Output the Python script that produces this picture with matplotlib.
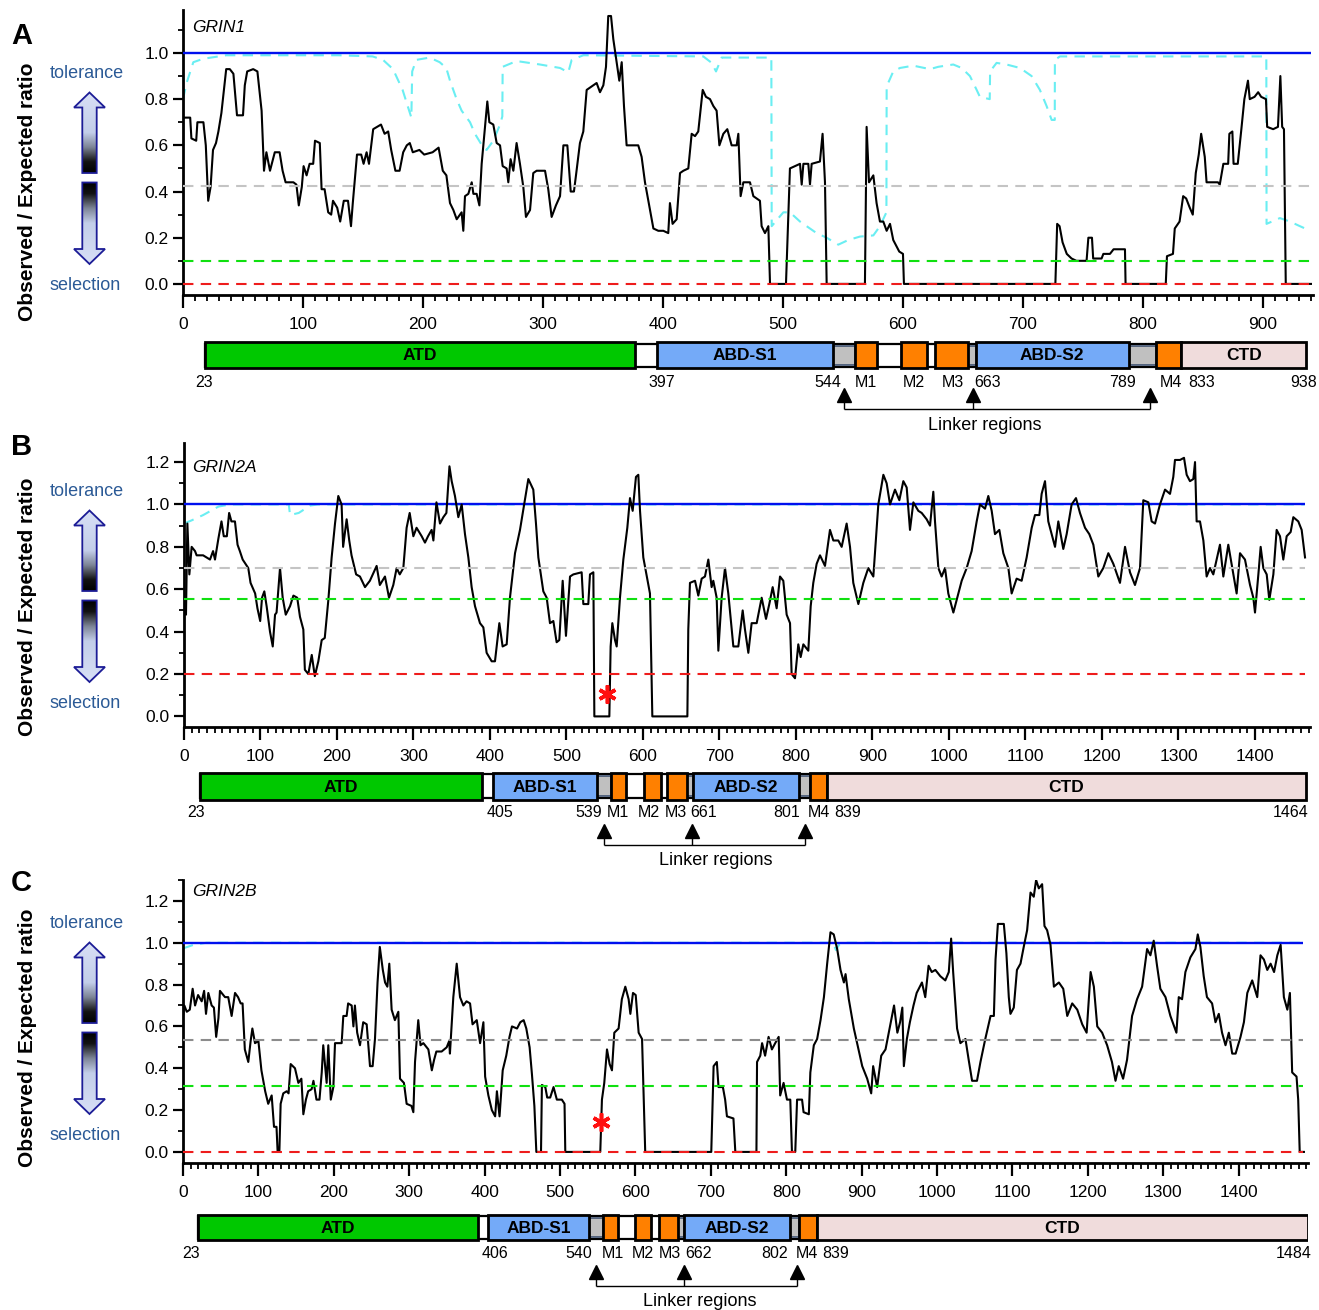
import numpy as np
import matplotlib
matplotlib.use('Agg')
import matplotlib.pyplot as plt
from matplotlib.patches import Rectangle, Polygon
from matplotlib.colors import LinearSegmentedColormap
from matplotlib.ticker import MultipleLocator, FormatStrFormatter

plt.rcParams['font.family'] = ['Liberation Sans', 'DejaVu Sans']

W, H = 1319, 1310

# ---------------- data (residue position, observed/expected ratio) ----------------
grin1_trace = [
    (0, .72), (6, .72), (7, .63), (11, .62), (12, .70), (17, .70), (19, .60), (21, .36), (23, .42), (25, .58),
    (27.5, .61), (29.5, .66), (32, .74), (36, .93), (39, .93), (42, .91), (45, .73), (50, .73), (51.5, .86), (53.5, .92),
    (58.5, .93), (62, .92), (65.5, .75), (67.5, .49), (69.5, .57), (72.5, .49), (76.5, .57), (80.5, .57), (83, .49), (85.5, .44),
    (89, .44), (92, .44), (94.5, .43), (96.5, .34), (99, .42), (100.5, .51), (103, .47), (105.5, .52), (108.5, .52), (110, .62),
    (114, .61), (115.5, .41), (118, .41), (121, .31), (123.5, .30), (125, .36), (128.5, .33), (131, .27), (134, .36), (137.5, .36),
    (140, .25), (141.5, .35), (145, .56), (148.5, .56), (150.5, .52), (153, .57), (155, .52), (158.5, .67), (165, .69), (168, .65),
    (171, .66), (173.5, .58), (177, .49), (180.5, .49), (183.5, .57), (186.5, .60), (189, .61), (191.5, .57), (197, .58), (201, .56),
    (208, .57), (213, .59), (216.5, .49), (219.5, .47), (222.5, .35), (225.3, .32), (228.1, .28), (232.2, .31), (233.6, .23), (235, .38),
    (237.8, .39), (240.6, .44), (242, .39), (244.7, .39), (247, .34), (248.9, .52), (251.7, .68), (253.6, .79), (255.3, .70), (258.6, .69),
    (261.4, .61), (264.2, .60), (266.4, .51), (269.7, .50), (271.1, .44), (273, .54), (275.3, .49), (278, .61), (280.8, .52), (283.6, .42),
    (285.8, .29), (289.2, .32), (291.9, .48), (294.7, .49), (301.7, .49), (304.4, .41), (307.2, .29), (310.8, .34), (314.2, .38), (317, .60),
    (320.3, .60), (323.1, .40), (325.8, .40), (327.5, .47), (330.8, .61), (333.6, .66), (336.4, .84), (339.2, .85), (342, .86), (344.7, .87),
    (347.5, .83), (350.3, .86), (352.5, .94), (354.4, 1.16), (356.7, 1.16), (358.6, 1.06), (361.4, .96), (363.6, .88), (365.6, .96), (367.5, .77),
    (369.7, .60), (375.3, .60), (379.4, .60), (382.2, .55), (385, .44), (387.8, .36), (392, .24), (396.1, .23), (400.3, .23), (404.4, .22),
    (405.8, .35), (408, .26), (411.4, .28), (414.2, .48), (417, .49), (421.1, .50), (423.9, .65), (426.7, .64), (429.4, .66), (433.1, .84),
    (435.8, .81), (439.2, .80), (442, .77), (444.7, .75), (447, .60), (450.3, .65), (453.6, .67), (457.2, .60), (461.4, .60), (462.8, .65),
    (464.7, .38), (467, .44), (472.5, .44), (475.3, .38), (480.8, .36), (482.2, .25), (485, .22), (487.8, .25), (489.2, 0), (502.5, 0),
    (505.8, .50), (514.2, .52), (515.6, .43), (517, .52), (521.1, .52), (522.5, .43), (523.9, .52), (530.8, .53), (533, .65), (535, .44),
    (536.4, 0), (568.3, 0), (569.7, .68), (571.7, .44), (575.3, .47), (578, .35), (580.8, .27), (583.6, .27), (586.4, .23), (589.2, .26),
    (591.9, .19), (596.9, .14), (600, .13), (600.8, 0), (727, 0), (728.5, .26), (730.5, .25), (733, .18), (736.5, .13), (740.5, .11),
    (744.5, .10), (753, .10), (754.5, .20), (757.5, .20), (758.5, .11), (765.5, .11), (767, .13), (772.5, .13), (775.5, .15), (785, .15),
    (785.5, 0), (819, 0), (820, .12), (825, .13), (826.5, .24), (830.5, .27), (833.5, .38), (836, .37), (839, .33), (841.5, .30),
    (844, .48), (846.5, .56), (848.5, .65), (851.5, .55), (853, .44), (862.5, .44), (864, .43), (867, .52), (871, .52), (872, .65),
    (874.5, .66), (875.5, .52), (879, .52), (882, .67), (884.5, .80), (887.5, .88), (889, .80), (893, .81), (896, .83), (898.5, .81),
    (902.5, .80), (903.5, .68), (908.5, .67), (912.5, .68), (914.5, .90), (916, .68), (917.5, .67), (919, 0), (940, 0),
]
grin1_upper = [
    (0, .80), (3, .87), (8.6, .96), (17, .975), (36, .99), (130, .99), (158, .985), (166.7, .97), (175, .93), (183, .84),
    (190.3, .72), (191, .92), (194.4, .97), (205.5, .98), (213.9, .96), (219.4, .935), (222.5, .88), (228, .80), (232.2, .75), (239.2, .70),
    (243.3, .65), (250.3, .59), (253, .58), (258.6, .62), (264.2, .69), (266.1, .725), (266.4, .94), (278, .965), (297.5, .95), (314.2, .935),
    (321.1, .916), (323.9, .97), (333.6, .99), (433.6, .985), (440.6, .957), (444.2, .92), (448.9, .98), (490.3, .98), (490.6, .25), (500.3, .31),
    (505.8, .31), (514.2, .27), (519.7, .25), (528, .22), (536.4, .20), (546.1, .17), (554.4, .19), (564.2, .205), (575.3, .21), (580.8, .25),
    (586.2, .31), (586.4, .855), (591.9, .92), (597.5, .935), (608.6, .945), (622.5, .93), (629.4, .94), (641.9, .95), (648.9, .935), (655.8, .90),
    (661.4, .84), (664.1, .81), (672.3, .80), (672.6, .92), (678, .957), (686.3, .95), (697.5, .935), (707.2, .90), (714.1, .84), (719.7, .77),
    (723.9, .71), (726.5, .71), (726.6, .97), (730.8, .985), (902.8, .985), (903, .26), (914.1, .285), (922.5, .27), (930.8, .25), (937.7, .234),
]

grin2a_trace = [
    (0, .49), (2.6, .48), (4.4, .91), (7, .67), (10, .80), (14.4, .78), (16.5, .76), (25, .76), (34, .74), (38, .78),
    (40.5, .74), (45, .84), (49, .92), (52, .85), (56, .85), (59, .96), (62, .92), (66.6, .92), (70, .81), (73, .78),
    (76.7, .74), (84, .70), (87, .63), (93, .58), (96, .51), (99.6, .45), (102, .56), (105, .59), (108, .52), (112.4, .40),
    (116, .33), (119, .48), (121, .49), (125.5, .70), (129, .56), (133, .48), (138.6, .52), (143, .57), (148, .56), (151.6, .47),
    (156, .41), (158, .22), (162.5, .20), (167, .29), (171, .19), (175.6, .26), (180, .36), (184, .37), (188.7, .55), (193, .75),
    (197.4, .91), (201.7, 1.04), (206, 1.00), (208, .80), (212.6, .93), (216, .83), (219, .76), (225, .67), (230, .66), (236.6, .61),
    (243, .64), (251.8, .71), (256, .62), (262.7, .66), (268, .56), (273.6, .62), (278, .70), (282, .67), (286.7, .70), (291, .89),
    (295, .96), (299.8, .85), (304, .89), (310.7, .85), (315, .82), (319, .85), (323.7, .88), (326, .83), (330, 1.01), (334.6, .91),
    (339, .94), (343, .96), (347, 1.18), (349.9, 1.11), (354.2, 1.04), (358.6, .94), (363, 1.00), (367.3, .86), (371.7, .75), (376, .61),
    (380.4, .52), (386.9, .44), (391.3, .42), (395.6, .30), (402.2, .26), (406.5, .26), (412.2, .44), (416.5, .33), (421.8, .34), (426.1, .56),
    (432.7, .77), (439.2, .88), (450.1, 1.12), (456.6, 1.07), (460.1, .91), (463.2, .75), (469.7, .59), (474.1, .56), (478.4, .44), (482.8, .45),
    (487.1, .35), (490.6, .36), (495, .64), (499.3, .38), (504.6, .66), (508.9, .67), (519.8, .68), (522, .53), (528.5, .53), (530.7, .67),
    (535.1, .68), (536.4, 0), (556, 0), (557.7, .33), (559.9, .44), (563.4, .36), (565.6, .33), (569.9, .56), (574.3, .74), (579.5, .89),
    (583, 1.03), (586.5, .97), (590.8, 1.13), (593.9, 1.14), (596.1, .97), (600.4, .75), (609.1, .58), (612.2, 0), (658, 0), (659.2, .41),
    (661.4, .63), (668, .64), (672.3, .57), (676.7, .65), (681, .66), (685.4, .74), (689.7, .61), (691.9, .64), (696.3, .56), (698.5, .31),
    (702.8, .56), (707.2, .70), (711.5, .58), (718.1, .33), (724.6, .33), (730.3, .50), (733.3, .41), (737.7, .30), (742, .44), (748.6, .44),
    (755.1, .56), (760.8, .46), (765.1, .53), (769.5, .61), (774.7, .51), (779.1, .66), (783.4, .64), (787.8, .48), (792.2, .44), (794.3, .20),
    (798.7, .18), (803, .34), (806.1, .28), (809.6, .34), (816.1, .31), (819.2, .52), (822.6, .63), (827, .72), (831.4, .76), (837.9, .71),
    (844.4, .88), (848.8, .83), (855.3, .83), (859.7, .80), (866.2, .91), (870.6, .80), (874.9, .63), (881.5, .53), (888, .63), (894.5, .70),
    (901.1, .66), (907.6, 1.00), (914.2, 1.14), (918.5, 1.10), (922.9, 1.00), (929.4, 1.07), (935.1, 1.02), (940.3, 1.11), (944.7, 1.08), (949, .88),
    (953.4, 1.01), (959.9, .97), (964.3, .96), (970.8, .93), (975.2, .90), (979.5, 1.06), (981.7, .92), (986.1, .70), (990.4, .66), (994.8, .70),
    (999.1, .58), (1005.7, .49), (1010, .55), (1016.6, .64), (1023.1, .70), (1029.6, .78), (1036.2, .92), (1040.5, 1.00), (1047.1, .98), (1051.4, 1.04),
    (1055.8, .97), (1060.1, .86), (1065.8, .88), (1071, .77), (1077.6, .70), (1081.9, .58), (1088.4, .65), (1095, .64), (1101.5, .75), (1108.1, .89),
    (1112.4, .95), (1118.1, .95), (1121.1, 1.05), (1125.5, 1.11), (1129.8, .92), (1134.2, .86), (1138.6, .80), (1142.9, .92), (1149.4, .79), (1153.8, .86),
    (1160.3, 1.00), (1166, 1.03), (1171.2, .96), (1177.8, .89), (1183.4, .86), (1188.7, .81), (1195.2, .66), (1201.7, .70), (1208.3, .77), (1214.8, .72),
    (1223.5, .63), (1230.1, .80), (1236.6, .68), (1243.1, .62), (1249.7, .70), (1254, 1.02), (1260.6, 1.01), (1264.9, .92), (1269.3, .91), (1275.8, 1.00),
    (1282.4, 1.07), (1288.9, 1.05), (1293.2, 1.13), (1295.4, 1.21), (1302, 1.21), (1307.2, 1.22), (1310.7, 1.14), (1315, 1.11), (1319.4, 1.12), (1321.6, 1.20),
    (1323.7, .92), (1328.1, .92), (1332.5, .83), (1336.8, .66), (1341.2, .70), (1345.5, .67), (1354.2, .81), (1358.6, .66), (1365.1, .81), (1371.7, .67),
    (1376, .58), (1380.4, .77), (1386.9, .74), (1393.5, .62), (1397.8, .56), (1400, .49), (1404.4, .67), (1407.4, .80), (1410.9, .70), (1415.3, .67),
    (1418.7, .55), (1424, .67), (1428.3, .88), (1432.7, .85), (1437, .74), (1441.4, .85), (1446.6, .87), (1450.1, .94), (1456.6, .92), (1461, .88),
    (1465.4, .75),
]
grin2a_upper = [(0, .91), (10, .925), (25, .95), (35, .97), (45, .99), (60, 1.0), (137, 1.0), (138.6, .95),
                (150, .96), (165, .995), (175, 1.0), (1465, 1.0)]

grin2b_trace = [
    (0, .65), (1.8, .70), (5, .67), (9, .68), (12.8, .78), (16, .70), (20, .75), (24.8, .72), (28, .77), (30.5, .66),
    (33.6, .76), (38, .70), (41, .69), (44, .55), (47, .64), (49, .77), (55.7, .74), (60, .74), (64.5, .65), (69, .76),
    (73, .74), (76.5, .71), (79, .71), (82, .49), (86.6, .43), (89.7, .53), (92, .59), (95.5, .52), (100, .53), (104, .39),
    (109, .29), (113, .23), (117.6, .27), (120.7, .12), (124, .12), (125.5, 0), (127.8, 0), (129.5, .23), (133, .28), (137.5, .29),
    (140, .28), (142.8, .42), (148.5, .40), (153, .33), (157, .35), (159.6, .18), (163, .25), (166, .29), (170.6, .30), (173, .34),
    (177, .25), (181, .25), (184, .38), (186, .51), (190.5, .33), (192.7, .51), (196, .25), (199.4, .31), (201.6, .52), (210.4, .52),
    (212.6, .65), (217, .65), (219, .71), (223.7, .70), (226, .60), (228, .70), (231, .57), (234.7, .51), (239, .62), (243.6, .61),
    (248, .41), (251.5, .41), (254.6, .54), (258, .81), (261, .98), (265, .87), (268, .81), (271, .79), (273.6, .90), (276.7, .68),
    (281, .63), (285.6, .67), (287.8, .35), (293, .33), (296.6, .23), (303, .22), (305.5, .19), (307.7, .43), (312, .63), (315, .51),
    (318.8, .52), (325.4, .49), (330, .39), (333, .44), (336, .48), (343, .48), (349.7, .50), (353, .53), (354, .47), (358.5, .74),
    (363, .90), (367.4, .74), (371.8, .70), (376, .72), (380.7, .71), (384, .61), (389.6, .63), (394, .52), (398.4, .62), (400.7, .36),
    (405, .27), (409.6, .20), (414, .17), (416.3, .29), (419.8, .17), (424, .39), (428.7, .46), (433, .55), (436.3, .60), (443, .59),
    (447.3, .62), (451.8, .63), (455.3, .59), (459.7, .50), (462.8, .37), (466, .22), (468.6, 0), (474.8, 0), (476, .32), (480.5, .31),
    (483, .26), (487, .26), (491.4, .31), (495.8, .25), (502.4, .25), (506, .23), (507, 0), (553.4, 0), (555.6, .25), (558.7, .33),
    (562.3, .49), (565.8, .42), (568.9, .39), (572, .57), (577.7, .59), (582, .73), (586.6, .79), (591, .73), (593.3, .66), (596.8, .76),
    (600.4, .75), (604.3, .57), (608.8, .54), (613, 0), (700.6, 0), (703.7, .41), (708, .43), (710.2, .31), (716, .31), (719, .25),
    (721.4, .17), (730, .16), (732.5, 0), (760.5, 0), (761.3, .43), (765.6, .46), (768, .52), (772, .46), (776.6, .55), (781, .49),
    (785.4, .52), (790, .55), (792, .27), (796.5, .33), (801, .25), (805.4, .25), (807.6, 0), (812, 0), (814.4, .25), (821, .25),
    (823, .19), (830, .18), (832, .38), (836.6, .51), (841, .54), (845.5, .63), (850, .74), (854.3, .90), (858.7, 1.05), (863, 1.04),
    (867.6, .97), (872, .87), (876.5, .81), (878.7, .85), (883, .73), (889.7, .59), (894, .52), (900.8, .41), (907.4, .35), (912.7, .28),
    (915.3, .41), (920.6, .31), (926, .46), (931.7, .49), (936, .57), (943, .70), (947.4, .57), (951, .62), (954, .69), (956, .41),
    (960, .54), (964, .62), (968.8, .70), (973, .76), (980, .81), (984.4, .74), (988.8, .89), (993, .86), (997.8, .87), (1004.4, .84),
    (1011, .82), (1015.6, .86), (1018.7, 1.02), (1021.4, .86), (1026.6, .59), (1031, .52), (1037.7, .54), (1042, .44), (1046.5, .34), (1053, .34),
    (1057.6, .43), (1064, .54), (1071, .65), (1075.4, .65), (1077.6, .92), (1080.7, 1.09), (1088.6, 1.09), (1092, .95), (1095.2, .74), (1097.4, .66),
    (1101.8, .69), (1106, .87), (1110.7, .90), (1115, .98), (1119.5, 1.06), (1124, 1.24), (1128.3, 1.22), (1131.4, 1.30), (1135, 1.26), (1139.4, 1.28),
    (1142.5, 1.08), (1146, 1.06), (1150.5, .99), (1155, .79), (1161.6, .81), (1167.4, .78), (1172.7, .65), (1179.3, .71), (1186, .68), (1192.6, .61),
    (1198.4, .57), (1203.7, .86), (1208, .79), (1212.5, .60), (1219, .57), (1225.6, .51), (1232, .43), (1236.7, .34), (1241, .41), (1246.8, .35),
    (1252, .44), (1258.7, .65), (1265.3, .73), (1272, .79), (1278.6, .97), (1283, .94), (1287.4, 1.01), (1291.8, .89), (1296.2, .78), (1303, .74),
    (1309.5, .65), (1317.5, .57), (1320.6, .74), (1325, .73), (1329.4, .86), (1336, .93), (1342.7, .97), (1345.8, 1.04), (1349.3, .98), (1353.7, .84),
    (1358, .74), (1364.8, .71), (1369.3, .62), (1373.7, .66), (1378, .57), (1382.6, .51), (1387, .57), (1391.5, .47), (1396, .47), (1402.5, .55),
    (1407, .62), (1411.5, .76), (1418, .82), (1424.7, .74), (1429, .94), (1433.5, .92), (1438, .87), (1442.4, .90), (1447, .86), (1451.3, .94),
    (1455.7, .99), (1460, .74), (1464.6, .68), (1468, .76), (1471, .38), (1476.8, .36), (1479, .25), (1481, 0), (1486.6, 0),
]
grin2b_upper = [(0, .973), (14, .99), (31, 1.0), (862, 1.0), (866, .965), (870, .99), (875, 1.0), (1486, 1.0)]

# reference levels: [grey mean, green, red]
grin1_levels = [0.425, 0.10, 0.0]
grin2a_levels = [0.70, 0.555, 0.20]
grin2b_levels = [0.535, 0.315, 0.0]
seq_ends = [940, 1465, 1486]
stars = [None, (553.4, 0.107), (553.9, 0.144)]

# protein domains (name, start, end); 'L' = linker, M1-M4 = membrane segments
grin1_domains = [('ATD', 18, 377), ('ABD-S1', 395, 542), ('L', 542, 560), ('M1', 560, 578), ('M2', 598, 620),
                 ('M3', 627, 654.5), ('L', 654.5, 660.6), ('ABD-S2', 660.6, 788), ('L', 788, 810.6), ('M4', 810.6, 832),
                 ('CTD', 832, 936)]
grin2a_domains = [('ATD', 21, 390), ('ABD-S1', 403.5, 540.3), ('L', 540.3, 557.7), ('M1', 557.7, 577.8), ('M2', 601.7, 623.1),
                  ('M3', 630.9, 657.1), ('L', 657.1, 665.8), ('ABD-S2', 665.8, 804.3), ('L', 804.3, 818.3), ('M4', 818.3, 840.1),
                  ('CTD', 840.1, 1466.7)]
grin2b_domains = [('ATD', 20, 391.7), ('ABD-S1', 404, 538.9), ('L', 538.9, 556.6), ('M1', 556.6, 577.4), ('M2', 599.5, 620.7),
                  ('M3', 631.3, 657), ('L', 657, 664.9), ('ABD-S2', 664.9, 805), ('L', 805, 817.4), ('M4', 817.4, 840.4),
                  ('CTD', 840.4, 1492.4)]

grin1_marks = [('23', 17.2), ('397', 399), ('544', 537), ('M1', 569.4), ('M2', 609), ('M3', 642), ('663', 670.6),
               ('789', 783.3), ('M4', 823), ('833', 849), ('938', 934)]
grin2a_marks = [('23', 15.7), ('405', 413), ('539', 528.5), ('M1', 567.7), ('M2', 607.8), ('M3', 642.7), ('661', 679.3),
                ('801', 787.8), ('M4', 830.1), ('839', 867.5), ('1464', 1446.6)]
grin2b_marks = [('23', 11), ('406', 414.2), ('540', 524.3), ('M1', 570.7), ('M2', 609.2), ('M3', 646.3), ('662', 683.9),
                ('802', 784.7), ('M4', 828), ('839', 865.2), ('1484', 1473)]

grin1_linkers = [551.1, 658.6, 805.8]
grin2a_linkers = [549, 663.6, 811.8]
grin2b_linkers = [547.3, 664.4, 813.9]
linker_text_x = [668, 694.8, 685.7]

genes = ['GRIN1', 'GRIN2A', 'GRIN2B']
letters = ['A', 'B', 'C']

# ---------------- layout (pixels) ----------------
panels = [
    dict(box=(183, 10, 1313, 295), xlim=(0, 941.7), ylim=(-0.048, 1.186), grey='#c4c4c4',
         dom_box=(183, 330, 1313, 440), bar_top=342, bar_h=26, mark_y=382.5, tri_y=395, line_y=409, text_y=425,
         letter_y=36, label_y=191.5, tol_y=74, arrow_y=92.5, sel_y=286, gene_y=27),
    dict(box=(184, 443, 1310, 727), xlim=(0, 1471.9), ylim=(-0.05, 1.29), grey='#c4c4c4',
         dom_box=(184, 762, 1310, 872), bar_top=773, bar_h=27, mark_y=812.5, tri_y=831.5, line_y=845, text_y=860.7,
         letter_y=447, label_y=606.5, tol_y=492, arrow_y=510.5, sel_y=704, gene_y=468),
    dict(box=(183, 880, 1308, 1163), xlim=(0, 1492), ylim=(-0.053, 1.30), grey='#8c8c8c',
         dom_box=(183, 1205, 1308, 1310), bar_top=1215, bar_h=25.5, mark_y=1254, tri_y=1271.7, line_y=1286, text_y=1301.5,
         letter_y=883, label_y=1038, tol_y=924, arrow_y=942.5, sel_y=1136, gene_y=892),
]

traces = [grin1_trace, grin2a_trace, grin2b_trace]
uppers = [grin1_upper, grin2a_upper, grin2b_upper]
levels = [grin1_levels, grin2a_levels, grin2b_levels]
domains = [grin1_domains, grin2a_domains, grin2b_domains]
marks = [grin1_marks, grin2a_marks, grin2b_marks]
linkers = [grin1_linkers, grin2a_linkers, grin2b_linkers]

dom_colors = {'ATD': '#00c800', 'ABD-S1': '#74aaf8', 'ABD-S2': '#74aaf8', 'CTD': '#f0dcdc', 'L': '#c0c0c0'}
orange = '#ff8000'

fig = plt.figure(figsize=(W / 100, H / 100), dpi=100)


def px_box(x0, y0, x1, y1):
    return [x0 / W, 1 - y1 / H, (x1 - x0) / W, (y1 - y0) / H]


for i, p in enumerate(panels):
    ax = fig.add_axes(px_box(*p['box']))
    ax.set_facecolor('none')
    pos, ratio = np.array(traces[i]).T
    up_x, up_y = np.array(uppers[i]).T
    end = seq_ends[i]
    grey_lv, green_lv, red_lv = levels[i]

    ax.plot(up_x, up_y, color='#6aeef2', lw=1.5, dashes=(5, 3.5), zorder=2)
    ax.hlines(1.0, 0, end, color='#0010ee', lw=1.7, zorder=3)
    ax.plot(pos, ratio, color='black', lw=1.5, zorder=4)
    ax.hlines(grey_lv, 0, end, color=p['grey'], lw=1.5, linestyles=(0, (5, 3.5)), zorder=5)
    ax.hlines(green_lv, 0, end, color='#10e010', lw=1.5, linestyles=(0, (5, 3.5)), zorder=5)
    ax.hlines(red_lv, 0, end, color='#ee1c1c', lw=1.5, linestyles=(0, (5, 3.5)), zorder=5)
    if stars[i] is not None:
        ax.plot(*stars[i], marker=(6, 2, 0), ms=13, mew=2.6, color='#ff1010', zorder=6)

    ax.set_xlim(*p['xlim'])
    ax.set_ylim(*p['ylim'])
    for s in ['top', 'right']:
        ax.spines[s].set_visible(False)
    for s in ['left', 'bottom']:
        ax.spines[s].set_linewidth(2)
    ax.xaxis.set_major_locator(MultipleLocator(100))
    ax.xaxis.set_minor_locator(MultipleLocator(10))
    ax.yaxis.set_major_locator(MultipleLocator(0.2))
    ax.yaxis.set_minor_locator(MultipleLocator(0.1))
    ax.yaxis.set_major_formatter(FormatStrFormatter('%.1f'))
    ax.tick_params(axis='x', which='major', length=9, width=1.6, labelsize=12.5, pad=7)
    ax.tick_params(axis='x', which='minor', length=4.5, width=1.3)
    ax.tick_params(axis='y', which='major', length=7.5, width=1.6, labelsize=12.5, pad=3)
    ax.tick_params(axis='y', which='minor', length=3.5, width=1.3)

    # domain bar
    dax = fig.add_axes(px_box(*p['dom_box']))
    dx0, dy0, dx1, dy1 = p['dom_box']
    dax.set_xlim(*p['xlim'])
    dax.set_ylim(dy1, dy0)
    dax.axis('off')
    top, h = p['bar_top'], p['bar_h']
    doms = domains[i]
    start, stop = doms[0][1], doms[-1][2]
    dax.add_patch(Rectangle((start, top + 1.5), stop - start, h - 3, fc='white', ec='black', lw=1.6, zorder=1))
    for name, s, e in doms:
        if name == 'L':
            dax.add_patch(Rectangle((s, top + 3.5), e - s, h - 7, fc=dom_colors['L'], ec='#34486a', lw=1.1, zorder=2))
    for name, s, e in doms:
        if name == 'L':
            continue
        fc = orange if name.startswith('M') else dom_colors[name]
        dax.add_patch(Rectangle((s, top), e - s, h, fc=fc, ec='black', lw=2, zorder=3))
        if not name.startswith('M'):
            dax.text((s + e) / 2, top + h / 2 + 1, name, ha='center', va='center', fontsize=12.5,
                     fontweight='bold', zorder=4)
    for txt, x in marks[i]:
        dax.text(x, p['mark_y'], txt, ha='center', va='center', fontsize=11.5)
    lk = linkers[i]
    dax.plot(lk, [p['tri_y']] * len(lk), ls='none', marker='^', ms=10, color='black')
    dax.vlines(lk, p['tri_y'] + 5, p['line_y'], color='black', lw=1)
    dax.hlines(p['line_y'], lk[0], lk[-1], color='black', lw=1)
    dax.text(linker_text_x[i], p['text_y'], 'Linker regions', ha='center', va='center', fontsize=13)

# overlay for labels and gradient arrows
ov = fig.add_axes([0, 0, 1, 1])
ov.set_facecolor('none')
grad_cmap = LinearSegmentedColormap.from_list(
    'tol', [(0, '#d8e0f6'), (0.5, '#c3cee9'), (0.68, '#7d8597'), (0.86, '#121212'), (1, '#000000')])


def gradient_arrow(xc, y_tip, y_base, y_end, up):
    hw, sw = 15.5, 7.2
    pts = [(xc, y_tip), (xc + hw, y_base), (xc + sw, y_base), (xc + sw, y_end),
           (xc - sw, y_end), (xc - sw, y_base), (xc - hw, y_base)]
    poly = Polygon(pts, closed=True, fc='none', ec='#1c1c96', lw=1.3, zorder=3)
    ov.add_patch(poly)
    g = np.linspace(0, 1, 256).reshape(-1, 1)
    if not up:
        g = g[::-1]
    t, b = min(y_tip, y_end), max(y_tip, y_end)
    im = ov.imshow(g, cmap=grad_cmap, extent=(xc - hw, xc + hw, b, t), aspect='auto',
                   origin='upper', zorder=2, interpolation='bilinear')
    im.set_clip_path(poly)


for i, p in enumerate(panels):
    ov.text(21.5, p['letter_y'], letters[i], fontsize=21, fontweight='bold', ha='center', va='center')
    ov.text(28, p['label_y'], 'Observed / Expected ratio', rotation=90, fontsize=15, fontweight='bold',
            ha='center', va='center')
    ov.text(87, p['tol_y'], 'tolerance', color='#2b5a96', fontsize=13, ha='center', va='center')
    ov.text(85.5, p['sel_y'], 'selection', color='#2b5a96', fontsize=13, ha='center', va='center')
    ov.text(192, p['gene_y'], genes[i], fontsize=12.5, style='italic', ha='left', va='center')
    y0 = p['arrow_y']
    gradient_arrow(89.5, y0, y0 + 15, y0 + 80.5, True)
    gradient_arrow(89.5, y0 + 171.5, y0 + 156.5, y0 + 90, False)

ov.set_xlim(0, W)
ov.set_ylim(H, 0)
ov.axis('off')

fig.savefig('out.png', dpi=100)
